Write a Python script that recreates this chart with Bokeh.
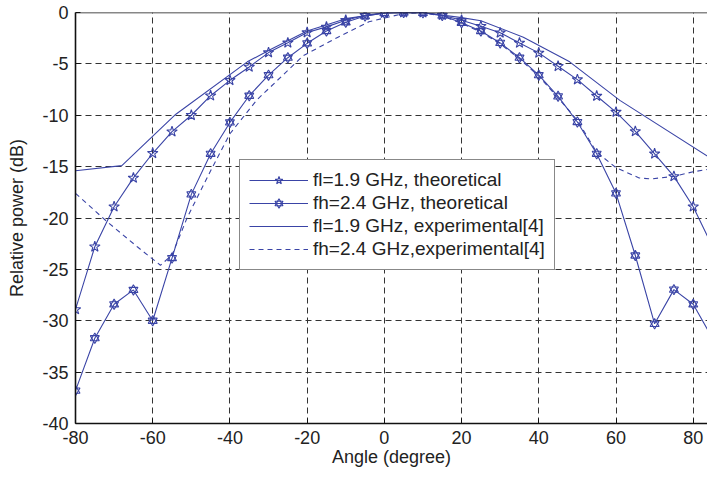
from bokeh.plotting import figure
from bokeh.models import Range1d, FixedTicker, Legend, LegendItem, Span
from bokeh.embed import file_html
from bokeh.resources import INLINE

# ---- data ----
angles = [-80, -75, -70, -65, -60, -55, -50, -45, -40, -35, -30, -25, -20, -15, -10, -5,
          0, 5, 10, 15, 20, 25, 30, 35, 40, 45, 50, 55, 60, 65, 70, 75, 80, 85]
fl_theoretical = [-28.9, -22.8, -18.9, -16.1, -13.7, -11.6, -10.0, -8.1, -6.6, -5.3, -3.9,
                  -2.95, -1.95, -1.4, -0.75, -0.26, -0.05, 0.0, -0.02, -0.26, -0.75, -1.34,
                  -1.98, -2.96, -3.93, -5.23, -6.53, -8.13, -9.69, -11.57, -13.75, -15.95,
                  -18.9, -22.8]
fh_theoretical = [-36.8, -31.7, -28.4, -27.0, -30.0, -23.9, -17.7, -13.75, -10.7, -8.1, -6.1,
                  -4.4, -3.0, -1.8, -0.95, -0.35, -0.05, 0.0, -0.03, -0.3, -1.0, -1.8,
                  -2.96, -4.4, -6.1, -8.16, -10.66, -13.75, -17.6, -23.65, -30.3, -26.97,
                  -28.4, -31.7]
exp_fl_angles = [-80, -68, -54, -35.5, -29.5, -20, -10, 0, 5, 10, 20, 25, 36, 48, 61, 85]
exp_fl_values = [-15.4, -14.9, -9.9, -4.8, -3.6, -1.8, -0.6, -0.05, 0.0, 0.0, -0.5, -0.8,
                 -2.4, -4.8, -8.55, -14.3]
exp_fh_angles = [-80, -72, -64, -58, -55, -51, -45, -40, -33, -21, -12, -4, 5, 10, 15, 20,
                 25, 30, 35, 40, 45, 50, 55, 60, 66, 69, 75, 80, 85]
exp_fh_values = [-17.6, -20.3, -22.8, -24.6, -23.6, -19.9, -15.4, -11.8, -8.5, -4.2, -2.4,
                 -0.9, -0.1, 0.0, -0.35, -1.05, -1.9, -3.05, -4.5, -6.2, -8.3, -10.5, -13.6,
                 -15.1, -16.1, -16.2, -15.95, -15.5, -15.2]
x_ticks = [-80, -60, -40, -20, 0, 20, 40, 60, 80]
y_ticks = [-40, -35, -30, -25, -20, -15, -10, -5, 0]
labels = ["fl=1.9 GHz, theoretical", "fh=2.4 GHz, theoretical",
          "fl=1.9 GHz, experimental[4]", "fh=2.4 GHz,experimental[4]"]

BLUE = "#3a44a6"
FONT = "Liberation Sans"

p = figure(width=707, height=480, output_backend="svg", toolbar_location=None,
           x_range=Range1d(-80, 83.7), y_range=Range1d(-40, 0),
           min_border_left=75, min_border_right=0, min_border_top=12, min_border_bottom=57)
p.outline_line_color = None
p.background_fill_color = "white"
p.border_fill_color = "white"

for ax in (p.xaxis[0], p.yaxis[0]):
    ax.major_label_text_font = FONT
    ax.major_label_text_font_size = "18px"
    ax.major_label_text_color = "#222222"
    ax.axis_label_text_font = FONT
    ax.axis_label_text_font_size = "18px"
    ax.axis_label_text_font_style = "normal"
    ax.axis_label_text_color = "#222222"
    ax.axis_line_color = "#111111"
    ax.axis_line_width = 1.6
    ax.major_tick_in = 5
    ax.major_tick_out = 0
    ax.major_tick_line_color = "#111111"
    ax.minor_tick_line_color = None

p.xaxis.ticker = FixedTicker(ticks=x_ticks)
p.yaxis.ticker = FixedTicker(ticks=y_ticks)
p.xaxis.major_label_overrides = {t: str(t) for t in x_ticks}
p.yaxis.major_label_overrides = {t: str(t) for t in y_ticks}
p.xaxis.axis_label = "Angle (degree)"
p.yaxis.axis_label = "Relative power (dB)"
p.xaxis.major_label_standoff = 7
p.xaxis.axis_label_standoff = 0
p.yaxis.major_label_standoff = 7
p.yaxis.axis_label_standoff = 12

p.xgrid[0].ticker = FixedTicker(ticks=x_ticks)
p.ygrid[0].ticker = FixedTicker(ticks=y_ticks)
for g in (p.xgrid[0], p.ygrid[0]):
    g.grid_line_color = "#333333"
    g.grid_line_dash = "6 4"
    g.grid_line_width = 1

p.add_layout(Span(location=0, dimension="width", line_color="#111111", line_width=1.6))

# series
l1 = p.line(angles, fl_theoretical, line_color=BLUE, line_width=1.1)
m1 = p.scatter(angles, fl_theoretical, marker="star", size=11, line_color=BLUE,
               fill_color=None, line_width=1.1)

l2 = p.line(angles, fh_theoretical, line_color=BLUE, line_width=1.1)
m2a = p.scatter(angles, fh_theoretical, marker="triangle", size=9, line_color=BLUE,
                fill_color=None, line_width=1.1)
m2b = p.scatter(angles, fh_theoretical, marker="inverted_triangle", size=9, line_color=BLUE,
                fill_color=None, line_width=1.1)

l3 = p.line(exp_fl_angles, exp_fl_values, line_color=BLUE, line_width=1.1)
l4 = p.line(exp_fh_angles, exp_fh_values, line_color=BLUE, line_width=1.1, line_dash="5 4")

legend = Legend(items=[
    LegendItem(label=labels[0], renderers=[l1, m1]),
    LegendItem(label=labels[1], renderers=[l2, m2a, m2b]),
    LegendItem(label=labels[2], renderers=[l3]),
    LegendItem(label=labels[3], renderers=[l4]),
], location=(164, 153))
legend.label_text_font = FONT
legend.label_text_font_size = "19px"
legend.label_text_color = "#222222"
legend.glyph_width = 59
legend.glyph_height = 20
legend.label_height = 20
legend.label_standoff = 5
legend.padding = 9
legend.spacing = 1
legend.margin = 0
legend.border_line_color = "#111111"
legend.border_line_width = 1.5
legend.background_fill_color = "white"
legend.background_fill_alpha = 1.0
p.add_layout(legend, "center")

open("out.html", "w").write(file_html(p, INLINE))
